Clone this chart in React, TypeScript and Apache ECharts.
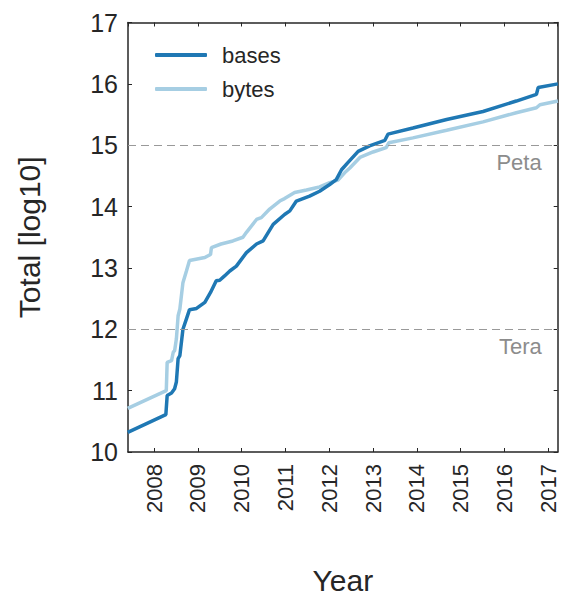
import React, { useEffect, useRef } from "react";
import * as echarts from "echarts";

const basesYears = [2007.40, 2008.27, 2008.30, 2008.40, 2008.47, 2008.51, 2008.55, 2008.59, 2008.66, 2008.74, 2008.81, 2008.97, 2009.16, 2009.29, 2009.42, 2009.50, 2009.61, 2009.73, 2009.88, 2010.11, 2010.34, 2010.49, 2010.72, 2010.98, 2011.10, 2011.25, 2011.55, 2011.78, 2012.01, 2012.16, 2012.28, 2012.43, 2012.66, 2012.92, 2013.27, 2013.34, 2013.91, 2014.68, 2015.51, 2016.27, 2016.73, 2016.77, 2017.22];
const basesValues = [10.32, 10.61, 10.92, 10.96, 11.03, 11.14, 11.52, 11.57, 12.00, 12.17, 12.32, 12.34, 12.44, 12.60, 12.79, 12.80, 12.87, 12.95, 13.03, 13.25, 13.39, 13.44, 13.71, 13.87, 13.93, 14.09, 14.17, 14.25, 14.36, 14.44, 14.60, 14.72, 14.90, 14.99, 15.08, 15.18, 15.28, 15.42, 15.55, 15.72, 15.83, 15.94, 16.00];

const bytesYears = [2007.40, 2008.28, 2008.30, 2008.40, 2008.44, 2008.47, 2008.51, 2008.55, 2008.59, 2008.66, 2008.74, 2008.81, 2009.16, 2009.29, 2009.31, 2009.53, 2009.80, 2010.03, 2010.11, 2010.34, 2010.45, 2010.64, 2010.87, 2010.98, 2011.21, 2011.48, 2011.78, 2012.01, 2012.20, 2012.35, 2012.47, 2012.70, 2013.00, 2013.30, 2013.36, 2013.91, 2014.68, 2015.51, 2016.27, 2016.73, 2016.81, 2017.22];
const bytesValues = [10.71, 11.00, 11.46, 11.49, 11.63, 11.65, 11.84, 12.22, 12.33, 12.76, 12.95, 13.12, 13.17, 13.22, 13.33, 13.39, 13.44, 13.50, 13.58, 13.79, 13.82, 13.96, 14.09, 14.13, 14.23, 14.27, 14.32, 14.39, 14.43, 14.55, 14.63, 14.80, 14.89, 14.96, 15.04, 15.12, 15.245, 15.38, 15.53, 15.61, 15.66, 15.72];

const refLevels = [15, 12];
const refNames = ["Peta", "Tera"];

const FONT = "'Liberation Sans', Arial, sans-serif";
const DARK = "#262626";

export default function App() {
  const ref = useRef<HTMLDivElement>(null);
  useEffect(() => {
    if (!ref.current) return;
    const chart = echarts.init(ref.current, null, { renderer: "svg" });
    const xMin = 2007.406;
    const xMax = 2017.215;
    const tickCommon = { show: true, inside: true, length: 4, lineStyle: { color: DARK, width: 1 } };
    chart.setOption({
      animation: false,
      backgroundColor: "#ffffff",
      textStyle: { fontFamily: FONT },
      grid: { left: 128, top: 22.5, right: 3.3, bottom: 146.7, containLabel: false },
      legend: {
        orient: "vertical",
        left: 150,
        top: 38,
        icon: "roundRect",
        itemWidth: 52,
        itemHeight: 4,
        itemGap: 10,
        textStyle: { fontSize: 22, color: DARK, fontFamily: FONT, lineHeight: 24, padding: [0, 0, 0, 10] },
        data: ["bases", "bytes"],
      },
      xAxis: [
        {
          type: "value",
          min: xMin,
          max: xMax,
          splitNumber: 10,
          minInterval: 1,
          maxInterval: 1,
          name: "Year",
          nameLocation: "middle",
          nameGap: 113,
          nameTextStyle: { fontSize: 30, color: DARK, fontFamily: FONT },
          axisLine: { show: true, lineStyle: { color: DARK, width: 1.5 } },
          axisTick: tickCommon,
          splitLine: { show: false },
          axisLabel: {
            rotate: 90,
            fontSize: 22,
            color: DARK,
            margin: 12,
            fontFamily: FONT,
            showMinLabel: false,
            showMaxLabel: false,
            formatter: (v: number) => (Math.abs(v - Math.round(v)) < 1e-6 ? String(Math.round(v)) : ""),
          },
        },
        {
          type: "value",
          position: "top",
          min: xMin,
          max: xMax,
          splitNumber: 10,
          minInterval: 1,
          maxInterval: 1,
          axisLine: { show: true, lineStyle: { color: DARK, width: 1.5 } },
          axisTick: tickCommon,
          axisLabel: { show: false },
          splitLine: { show: false },
        },
      ],
      yAxis: [
        {
          type: "value",
          min: 10,
          max: 17,
          interval: 1,
          name: "Total [log10]",
          nameLocation: "middle",
          nameGap: 84,
          nameTextStyle: { fontSize: 30, color: DARK, fontFamily: FONT },
          axisLine: { show: true, lineStyle: { color: DARK, width: 1.5 } },
          axisTick: tickCommon,
          splitLine: { show: false },
          axisLabel: { fontSize: 25, color: DARK, margin: 10, fontFamily: FONT },
        },
        {
          type: "value",
          position: "right",
          min: 10,
          max: 17,
          interval: 1,
          axisLine: { show: true, lineStyle: { color: DARK, width: 1.5 } },
          axisTick: tickCommon,
          axisLabel: { show: false },
          splitLine: { show: false },
        },
      ],
      series: [
        {
          name: "bytes",
          type: "line",
          data: bytesYears.map((x, i) => [x, bytesValues[i]]),
          showSymbol: false,
          symbol: "none",
          clip: true,
          z: 3,
          lineStyle: { color: "#a6cee3", width: 3.5 },
          itemStyle: { color: "#a6cee3" },
          markLine: {
            silent: true,
            symbol: "none",
            lineStyle: { color: "#999999", type: [8, 5], width: 1.2 },
            label: {
              show: true,
              position: "insideEndBottom",
              fontSize: 22,
              color: "#8c8c8c",
              fontFamily: FONT,
              distance: [16, 6],
              formatter: (p: any) => refNames[refLevels.indexOf(p.value)] ?? "",
            },
            data: refLevels.map((v) => ({ yAxis: v })),
          },
        },
        {
          name: "bases",
          type: "line",
          data: basesYears.map((x, i) => [x, basesValues[i]]),
          showSymbol: false,
          symbol: "none",
          clip: true,
          z: 4,
          lineStyle: { color: "#1f78b4", width: 3.5 },
          itemStyle: { color: "#1f78b4" },
        },
      ],
    });
    return () => chart.dispose();
  }, []);
  return (
    <div
      ref={ref}
      style={{ position: "fixed", left: 0, top: 0, width: 561, height: 600, background: "#fff" }}
    />
  );
}
